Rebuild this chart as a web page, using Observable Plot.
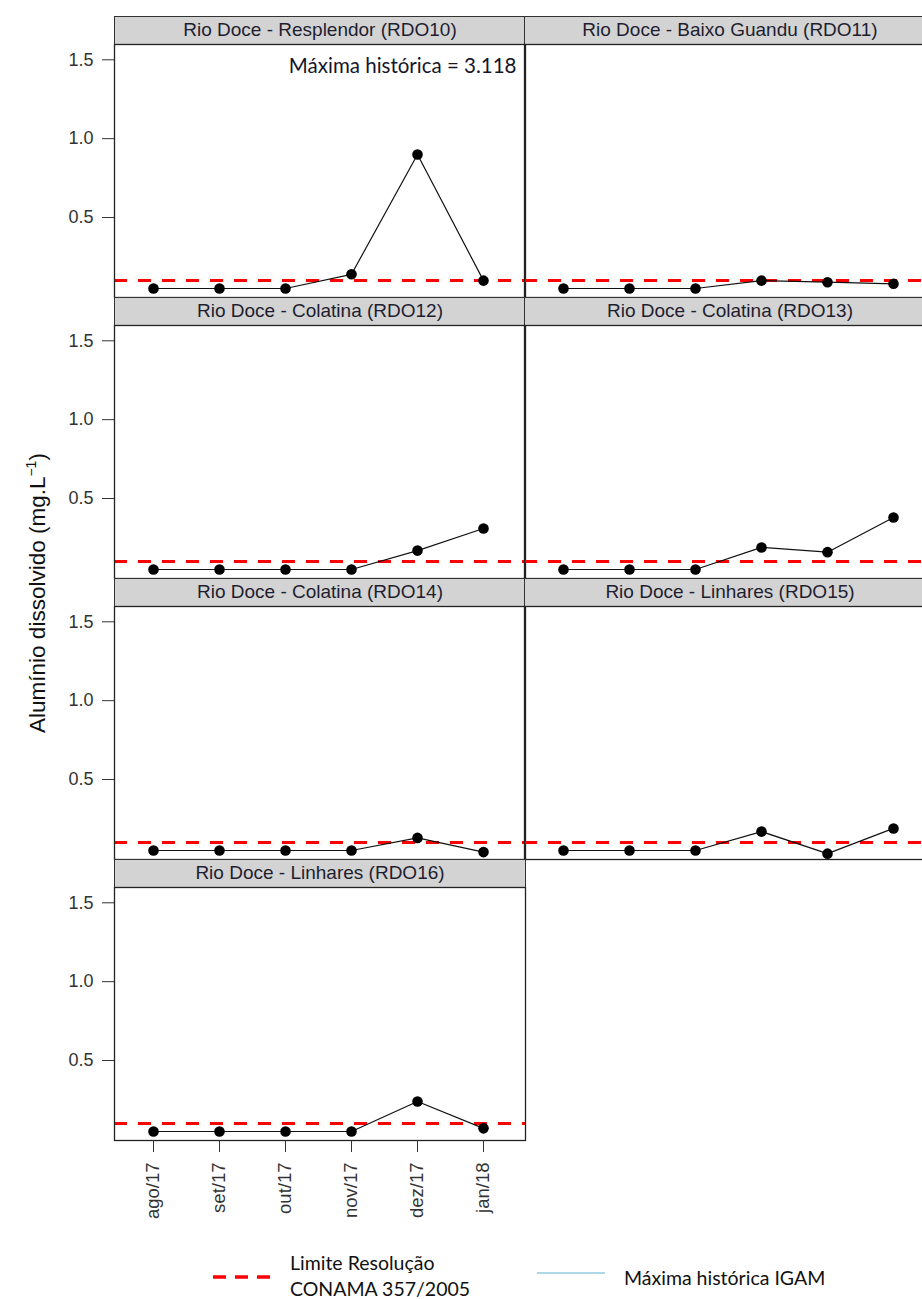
<!DOCTYPE html>
<html><head><meta charset="utf-8">
<script src="https://cdn.jsdelivr.net/npm/d3@7"></script>
<script src="https://cdn.jsdelivr.net/npm/@observablehq/plot@0.6"></script>
<style>
html,body{margin:0;padding:0;background:#fff;overflow:hidden}
#root{position:relative;width:922px;height:1299px;overflow:hidden;font-family:"Liberation Sans",Arial,sans-serif;color:#222}
.strip{position:absolute;height:29px;background:#d3d3d3;border:1px solid #333;box-sizing:border-box;text-align:center;font-size:19px;line-height:26px;color:#1e1e30;white-space:nowrap;overflow:hidden}
.panel{position:absolute}
.ytitle{position:absolute;width:420px;height:28px;text-align:center;font-size:22.5px;line-height:28px;transform:rotate(-90deg);white-space:nowrap;color:#111}
.leg{position:absolute;font-family:Lato,"Open Sans",sans-serif;font-size:19.5px;color:#111;white-space:nowrap}
</style>
</head><body><div id="root"></div>
<script>
// ---- data ----
const months = ["ago/17","set/17","out/17","nov/17","dez/17","jan/18"];
const stations = [
  "Rio Doce - Resplendor (RDO10)",
  "Rio Doce - Baixo Guandu (RDO11)",
  "Rio Doce - Colatina (RDO12)",
  "Rio Doce - Colatina (RDO13)",
  "Rio Doce - Colatina (RDO14)",
  "Rio Doce - Linhares (RDO15)",
  "Rio Doce - Linhares (RDO16)"
];
const rdo10 = [0.05, 0.05, 0.05, 0.14, 0.90, 0.10];
const rdo11 = [0.05, 0.05, 0.05, 0.10, 0.09, 0.08];
const rdo12 = [0.05, 0.05, 0.05, 0.05, 0.17, 0.31];
const rdo13 = [0.05, 0.05, 0.05, 0.19, 0.16, 0.38];
const rdo14 = [0.05, 0.05, 0.05, 0.05, 0.13, 0.04];
const rdo15 = [0.05, 0.05, 0.05, 0.17, 0.03, 0.19];
const rdo16 = [0.05, 0.05, 0.05, 0.05, 0.24, 0.07];
const seriesValues = [rdo10, rdo11, rdo12, rdo13, rdo14, rdo15, rdo16];
const limiteConama = 0.1;
const maximaHistorica = [3.118, null, null, null, null, null, null];
const yTicks = [0.5, 1.0, 1.5];

// ---- layout ----
const root = document.getElementById("root");
const yDomain = [-0.007, 1.597];
const panelW = 411, panelH = 253, stripTop = 16, rowPitch = 281, leftM = 114;

stations.forEach((name, i) => {
  const col = i % 2, row = Math.floor(i / 2);
  const isLeft = col === 0;
  const isBottom = i === stations.length - 1;
  const x0 = isLeft ? 0 : leftM + panelW - 1;
  const stripY = stripTop + row * rowPitch;

  const strip = document.createElement("div");
  strip.className = "strip";
  strip.style.left = (isLeft ? leftM : leftM + panelW - 1) + "px";
  strip.style.top = stripY + "px";
  strip.style.width = (panelW + 1) + "px";
  strip.textContent = name;
  root.appendChild(strip);

  const data = months.map((m, j) => ({month: m, value: seriesValues[i][j]}));
  const marks = [
    Plot.ruleY([limiteConama], {stroke: "#ff0000", strokeWidth: 3, strokeDasharray: "13,11"}),
    Plot.line(data, {x: "month", y: "value", stroke: "#111", strokeWidth: 1.2}),
    Plot.dot(data, {x: "month", y: "value", r: 5.3, fill: "#000", stroke: "none"}),
    Plot.frame({stroke: "#222", strokeWidth: 1.3})
  ];
  if (maximaHistorica[i] != null) {
    if (maximaHistorica[i] <= yDomain[1]) {
      marks.push(Plot.ruleY([maximaHistorica[i]], {stroke: "#add8e6", strokeWidth: 2}));
    } else {
      marks.push(Plot.text([`Máxima histórica = ${maximaHistorica[i]}`], {
        text: d => d, frameAnchor: "top-right", lineAnchor: "middle", dx: -9, dy: 22,
        fontSize: 20.5, fontFamily: "Lato, 'Open Sans', sans-serif", fill: "#15152a"
      }));
    }
  }
  if (isLeft) {
    marks.push(Plot.axisY(yTicks, {tickSize: 12, tickPadding: 9, fontSize: 18, tickFormat: d3.format(".1f"), stroke: "#333", fill: "#333", label: null}));
  }
  if (isBottom) {
    marks.push(Plot.axisX({tickSize: 12, tickPadding: 10, tickRotate: -90, fontSize: 18.5, stroke: "#333", fill: "#333", label: null}));
  }

  const chart = Plot.plot({
    width: (isLeft ? leftM : 0) + panelW,
    height: panelH + (isBottom ? 100 : 0),
    marginLeft: isLeft ? leftM : 0,
    marginRight: 0,
    marginTop: 0,
    marginBottom: isBottom ? 100 : 0,
    style: {overflow: "visible", fontFamily: "'Liberation Sans', Arial, sans-serif", background: "transparent"},
    x: {type: "point", domain: months, padding: 0.6, align: 0.48, axis: null, label: null},
    y: {domain: yDomain, axis: null, label: null},
    marks
  });
  chart.classList.add("panel");
  chart.style.position = "absolute";
  chart.style.left = x0 + "px";
  chart.style.top = (stripY + 28) + "px";
  root.appendChild(chart);
});

// y-axis title
const yt = document.createElement("div");
yt.className = "ytitle";
yt.style.left = (31 - 210) + "px";
yt.style.top = (593 - 14) + "px";
yt.innerHTML = "Alumínio dissolvido (mg.L<sup style='font-size:14px;vertical-align:9px'>−1</sup>)";
root.appendChild(yt);

// legend
const legItems = [
  {label: "Limite Resolução<br>CONAMA 357/2005", color: "#ff0000", dash: "13,9", width: 3.5, lx: 213, lw: 64, ly: 1277, tx: 290, ty: 1250},
  {label: "Máxima histórica IGAM", color: "#add8e6", dash: null, width: 2, lx: 537, lw: 68, ly: 1273, tx: 624, ty: 1265}
];
legItems.forEach(it => {
  const svg = d3.create("svg").attr("width", it.lw).attr("height", 10)
    .style("position", "absolute").style("left", it.lx + "px").style("top", (it.ly - 5) + "px");
  svg.append("line").attr("x1", 0).attr("x2", it.lw).attr("y1", 5).attr("y2", 5)
    .attr("stroke", it.color).attr("stroke-width", it.width)
    .attr("stroke-dasharray", it.dash);
  root.appendChild(svg.node());
  const t = document.createElement("div");
  t.className = "leg";
  t.style.left = it.tx + "px";
  t.style.top = it.ty + "px";
  t.style.lineHeight = "26px";
  t.innerHTML = it.label;
  root.appendChild(t);
});
</script></body></html>
